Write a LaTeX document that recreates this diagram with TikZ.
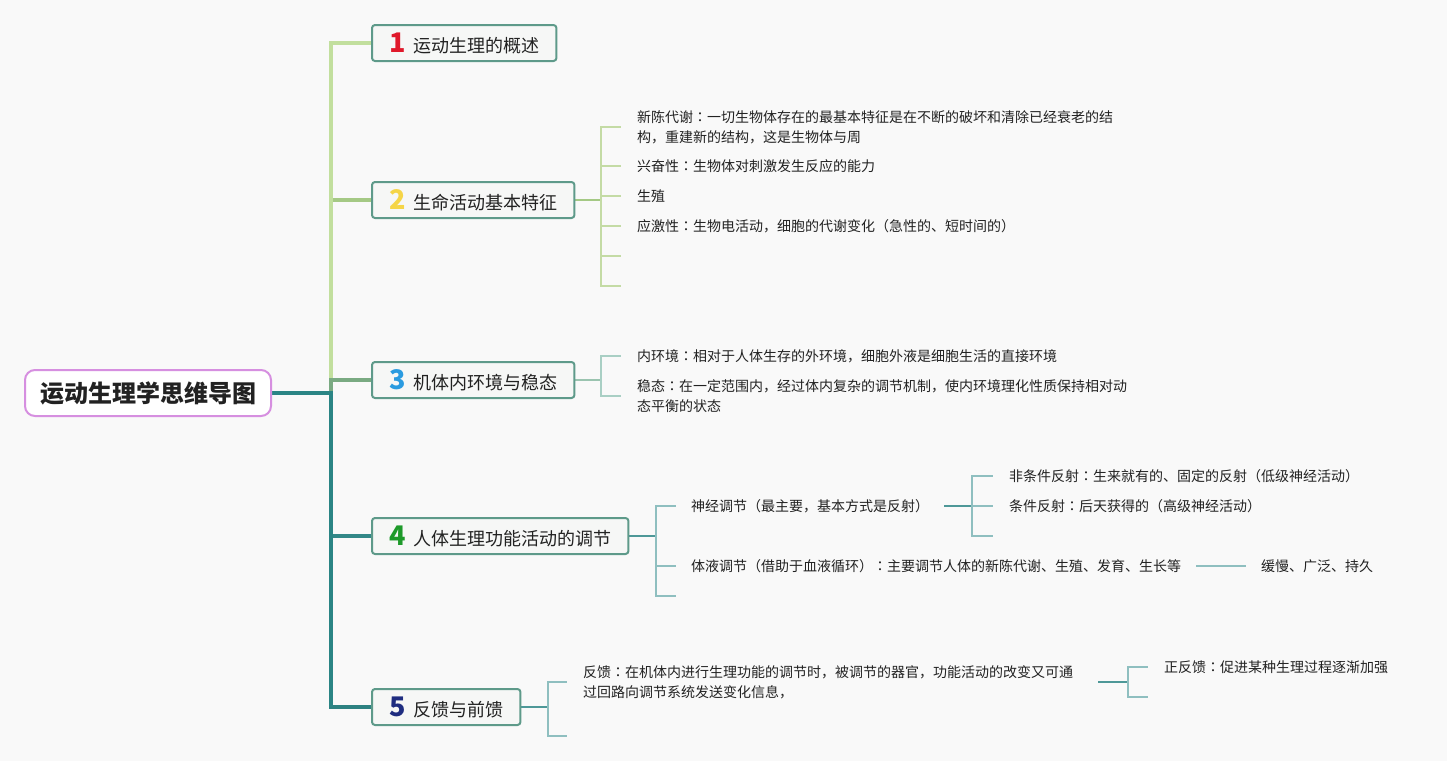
\documentclass[tikz,border=0pt]{standalone}
\usepackage{fontspec}
\usetikzlibrary{backgrounds}
\setmainfont{Noto Sans CJK SC}
\newfontfamily\cjkbold{Noto Sans CJK SC}[UprightFont=* Bold]
\newfontfamily\cjkblack{Noto Sans CJK SC}[UprightFont=* Black]
\newfontfamily\tcfont{Noto Sans CJK TC}
\newcommand{\cc}{{\tcfont ：}}
\definecolor{bg}{HTML}{F9F9F9}
\definecolor{txt}{HTML}{222222}
\definecolor{rootbd}{HTML}{D68FE0}
\definecolor{boxbd}{HTML}{5E9A8A}
\definecolor{boxfill}{HTML}{F6F7F6}
\definecolor{lroot}{HTML}{2B8585}
\definecolor{lone}{HTML}{C2DF9E}
\definecolor{ltwo}{HTML}{A5C985}
\definecolor{lthree}{HTML}{7AAA82}
\definecolor{lfour}{HTML}{338888}
\definecolor{lfive}{HTML}{2E8282}
\definecolor{ctwo}{HTML}{C4DBA5}
\definecolor{cthree}{HTML}{A9CFC4}
\definecolor{cfour}{HTML}{8FBFC0}
\definecolor{hfour}{HTML}{4E9898}
\definecolor{nred}{HTML}{E0192B}
\definecolor{nyel}{HTML}{F5D547}
\definecolor{nblue}{HTML}{2A9BE0}
\definecolor{ngreen}{HTML}{1E9A2A}
\definecolor{ndark}{HTML}{1F2D80}
\tikzset{
  rootbox/.style={draw=rootbd, line width=2pt, fill=white, rounded corners=10pt,
    minimum height=46pt, inner xsep=15pt, text=txt, font=\cjkblack\fontsize{24}{28}\selectfont},
  bbox/.style={draw=boxbd, line width=2pt, fill=boxfill, rounded corners=3pt,
    minimum height=36pt, inner xsep=17pt, inner ysep=0pt, anchor=west, text=txt,
    font=\fontsize{18}{22}\selectfont},
  leaf/.style={anchor=west, inner xsep=16pt, inner ysep=0pt, text=txt, align=left,
    font=\fontsize{14}{20}\selectfont},
  trunk/.style={line width=4pt},
  hline/.style={line width=2pt},
  bline/.style={line width=1.5pt},
}
\newcommand{\bnum}[2]{\textcolor{#1}{\cjkblack\fontsize{27}{27}\selectfont #2}\hspace{8pt}}
\begin{document}
\begin{tikzpicture}[x=1pt,y=-1pt]
\useasboundingbox (0,0) rectangle (1447,761);

% root and branches
\node[rootbox] (root) at (148,393) {运动生理学思维导图};
\coordinate (J) at (331,393);
\node[bbox] (b1) at (371,43) {\bnum{nred}{1}运动生理的概述};
\node[bbox] (b2) at (371,200) {\bnum{nyel}{2}生命活动基本特征};
\node[bbox] (b3) at (371,380) {\bnum{nblue}{3}机体内环境与稳态};
\node[bbox] (b4) at (371,536) {\bnum{ngreen}{4}人体生理功能活动的调节};
\node[bbox] (b5) at (371,707) {\bnum{ndark}{5}反馈与前馈};

% branch 2 children
\coordinate (k2) at (601,200);
\node[leaf] (c21) at (621,127) {新陈代谢\cc 一切生物体存在的最基本特征是在不断的破坏和清除已经衰老的结\\构，重建新的结构，这是生物体与周};
\node[leaf] (c22) at (621,166) {兴奋性\cc 生物体对刺激发生反应的能力};
\node[leaf] (c23) at (621,196) {生殖};
\node[leaf] (c24) at (621,226) {应激性\cc 生物电活动，细胞的代谢变化（急性的、短时间的）};
\coordinate (c25) at (621,256);
\coordinate (c26) at (621,286);

% branch 3 children
\coordinate (k3) at (601,380);
\node[leaf] (c31) at (621,356) {内环境\cc 相对于人体生存的外环境，细胞外液是细胞生活的直接环境};
\node[leaf] (c32) at (621,396) {稳态\cc 在一定范围内，经过体内复杂的调节机制，使内环境理化性质保持相对动\\态平衡的状态};

% branch 4 children
\coordinate (k4) at (656,536);
\node[leaf, inner xsep=15pt] (c41) at (676,506) {神经调节（最主要，基本方式是反射）};
\node[leaf, inner xsep=15pt] (c42) at (676,566) {体液调节（借助于血液循环）\cc 主要调节人体的新陈代谢、生殖、发育、生长等};
\coordinate (c43) at (676,596);
\coordinate (k41) at (972,506);
\node[leaf] (c411) at (993,476) {非条件反射\cc 生来就有的、固定的反射（低级神经活动）};
\node[leaf] (c412) at (993,506) {条件反射\cc 后天获得的（高级神经活动）};
\coordinate (c413) at (993,536);
\node[leaf, inner xsep=15pt] (c421) at (1246,566) {缓慢、广泛、持久};

% branch 5 children
\coordinate (k5) at (548,707);
\node[leaf] (c51) at (567,682) {反馈\cc 在机体内进行生理功能的调节时，被调节的器官，功能活动的改变又可通\\过回路向调节系统发送变化信息，};
\coordinate (c52) at (567,736);
\coordinate (k51) at (1128,682);
\node[leaf] (c511) at (1148,667) {正反馈\cc 促进某种生理过程逐渐加强};
\coordinate (c512) at (1148,697);

\begin{scope}[on background layer]
\fill[bg] (0,0) rectangle (1447,761);
% trunk
\draw[trunk, lfive] (J) |- (b5.west);
\draw[trunk, lfour] (J) |- (b4.west);
\draw[trunk, ltwo] (J) |- (b2.west);
\draw[trunk, lone] ([yshift=-13pt]J) |- (b1.west);
\draw[trunk, lthree] (J) |- (b3.west);
\draw[trunk, lroot] (root.east) -- ([xshift=2pt]J);
\draw[trunk, lroot] ([yshift=-2pt]J) -- (J |- b5.west);
% branch 2
\draw[hline, ltwo] (b2.east) -- (k2);
\foreach \c in {c21,c22,c23,c24}{\draw[bline, ctwo] (k2) |- (\c.west);}
\foreach \c in {c25,c26}{\draw[bline, ctwo] (k2) |- (\c);}
% branch 3
\draw[hline, cthree!70!lthree] (b3.east) -- (k3);
\foreach \c in {c31,c32}{\draw[bline, cthree] (k3) |- (\c.west);}
% branch 4
\draw[hline, hfour] (b4.east) -- (k4);
\foreach \c in {c41,c42}{\draw[bline, cfour] (k4) |- (\c.west);}
\draw[bline, cfour] (k4) |- (c43);
\draw[hline, hfour] (c41.east) -- (k41);
\foreach \c in {c411,c412}{\draw[bline, cfour] (k41) |- (\c.west);}
\draw[bline, cfour] (k41) |- (c413);
\draw[bline, cfour] (c42.east) -- (c421.west);
% branch 5
\draw[hline, hfour] (b5.east) -- (k5);
\draw[bline, cfour] (k5) |- (c51.west);
\draw[bline, cfour] (k5) |- (c52);
\draw[hline, hfour] ([xshift=9pt]c51.east) -- (k51);
\draw[bline, cfour] (k51) |- (c511.west);
\draw[bline, cfour] (k51) |- (c512);
\end{scope}
\end{tikzpicture}
\end{document}
